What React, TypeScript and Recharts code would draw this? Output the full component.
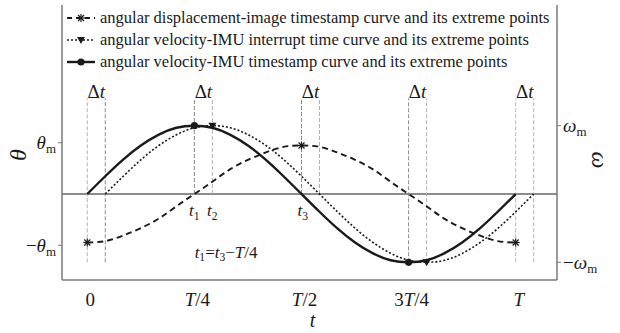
import React from 'react';
import { ComposedChart, Line, Scatter, XAxis, YAxis, ReferenceLine, Legend } from 'recharts';

// ---- data (time in units of period T, values in units of ω_m) ----
const SOLID_T = [0, 0.042, 0.083, 0.125, 0.167, 0.208, 0.25, 0.292, 0.333, 0.375, 0.417, 0.458, 0.5, 0.542, 0.583, 0.625, 0.667, 0.708, 0.75, 0.792, 0.833, 0.875, 0.917, 0.958, 1];
const SOLID_V = [0, 0.26, 0.5, 0.71, 0.87, 0.97, 1, 0.97, 0.87, 0.71, 0.5, 0.26, 0, -0.26, -0.5, -0.71, -0.87, -0.97, -1, -0.97, -0.87, -0.71, -0.5, -0.26, 0];
const DOTTED_T = [0.042, 0.084, 0.125, 0.167, 0.209, 0.25, 0.292, 0.334, 0.375, 0.417, 0.459, 0.5, 0.542, 0.584, 0.625, 0.667, 0.709, 0.75, 0.792, 0.834, 0.875, 0.917, 0.959, 1.0, 1.042];
const DOTTED_V = [0, 0.26, 0.5, 0.71, 0.87, 0.97, 1, 0.97, 0.87, 0.71, 0.5, 0.26, 0, -0.26, -0.5, -0.71, -0.87, -0.97, -1, -0.97, -0.87, -0.71, -0.5, -0.26, 0];
const DASHED_T = [0, 0.042, 0.083, 0.125, 0.167, 0.208, 0.25, 0.292, 0.333, 0.375, 0.417, 0.458, 0.5, 0.542, 0.583, 0.625, 0.667, 0.708, 0.75, 0.792, 0.833, 0.875, 0.917, 0.958, 1];
const DASHED_V = [-0.71, -0.69, -0.61, -0.5, -0.36, -0.18, 0, 0.18, 0.36, 0.5, 0.61, 0.69, 0.71, 0.69, 0.61, 0.5, 0.36, 0.18, 0, -0.18, -0.36, -0.5, -0.61, -0.69, -0.71];

const SOLID_EXT_T = [0.25, 0.75];
const SOLID_EXT_V = [1, -1];
const DOTTED_EXT_T = [0.292, 0.792];
const DOTTED_EXT_V = [1, -1];
const DASHED_EXT_T = [0, 0.5, 1];
const DASHED_EXT_V = [-0.71, 0.71, -0.71];

const DELTA_T = 0.042;
const DT_MARKS = [0, 0.25, 0.5, 0.75, 1];
const DT_LOW = [-1, 0, 0, -1, -1];
const DT_HIGH = 1.4;
const DT_LABEL_V = 1.5;

const X_TICKS = [0, 0.25, 0.5, 0.75, 1];
const X_LABELS = ['0', 'T/4', 'T/2', '3T/4', 'T'];
const LEFT_TICKS = [0.75, -0.75];
const LEFT_LABELS = ['θ_m', '−θ_m'];
const RIGHT_TICKS = [1, -1];
const RIGHT_LABELS = ['ω_m', '−ω_m'];

const ANNOT_T = [0.25, 0.292, 0.503, 0.324];
const ANNOT_V = [-0.24, -0.24, -0.24, -0.85];
const ANNOT_TEXT = ['t_1', 't_2', 't_3', 't_1=t_3−T/4'];

const LEGEND_ITEMS = [
  'angular displacement-image timestamp curve and its extreme points',
  'angular velocity-IMU interrupt time curve and its extreme points',
  'angular velocity-IMU timestamp curve and its extreme points',
];

const X_DOMAIN = [-0.059, 1.0964];
const Y_DOMAIN = [-1.259, 2.767];

const solidData = SOLID_T.map((t, i) => ({ t, v: SOLID_V[i] }));
const dottedData = DOTTED_T.map((t, i) => ({ t, v: DOTTED_V[i] }));
const dashedData = DASHED_T.map((t, i) => ({ t, v: DASHED_V[i] }));
const solidExt = SOLID_EXT_T.map((t, i) => ({ t, v: SOLID_EXT_V[i] }));
const dottedExt = DOTTED_EXT_T.map((t, i) => ({ t, v: DOTTED_EXT_V[i] }));
const dashedExt = DASHED_EXT_T.map((t, i) => ({ t, v: DASHED_EXT_V[i] }));
const dtLabels = DT_MARKS.map((m) => ({ t: m + DELTA_T / 2, v: DT_LABEL_V, label: 'Δt' }));
const annots = ANNOT_T.map((t, i) => ({ t, v: ANNOT_V[i], label: ANNOT_TEXT[i] }));

const SERIF = '"Liberation Serif", serif';
const INK = '#1a1a1a';
const AXIS = '#7a7a7a';

function MathText({ text, x, y, size, anchor = 'middle', fill = INK, transform }: any) {
  const parts: any[] = [];
  let i = 0;
  let pendingUp = 0;
  while (i < text.length) {
    const ch = text[i];
    if (ch === '_') {
      const s = text[i + 1];
      parts.push(
        <tspan key={i} fontSize={size * 0.68} dy={size * 0.22} fontStyle="normal">{s}</tspan>
      );
      pendingUp = -size * 0.22;
      i += 2;
      continue;
    }
    const italic = /[Ttθω]/.test(ch);
    parts.push(
      <tspan key={i} fontStyle={italic ? 'italic' : 'normal'} dy={pendingUp || undefined}>{ch}</tspan>
    );
    pendingUp = 0;
    i += 1;
  }
  return (
    <text x={x} y={y + size * 0.33} fontSize={size} fontFamily={SERIF} fill={fill} textAnchor={anchor} transform={transform}>
      {parts}
    </text>
  );
}

const Asterisk = ({ cx, cy }: any) => (
  <g stroke={INK} strokeWidth={1.2}>
    <line x1={cx - 4} y1={cy} x2={cx + 4} y2={cy} />
    <line x1={cx} y1={cy - 4} x2={cx} y2={cy + 4} />
    <line x1={cx - 3} y1={cy - 3} x2={cx + 3} y2={cy + 3} />
    <line x1={cx - 3} y1={cy + 3} x2={cx + 3} y2={cy - 3} />
  </g>
);
const TriDown = ({ cx, cy }: any) => (
  <polygon points={`${cx - 4},${cy - 3} ${cx + 4},${cy - 3} ${cx},${cy + 4}`} fill={INK} />
);
const Dot = ({ cx, cy }: any) => <circle cx={cx} cy={cy} r={3.6} fill={INK} />;

const LabelShape = (size: number) => ({ cx, cy, payload }: any) => (
  <MathText text={payload.label} x={cx} y={cy} size={size} />
);

const XTick = ({ x, payload }: any) => {
  const idx = X_TICKS.indexOf(payload.value);
  return <MathText text={X_LABELS[idx] ?? ''} x={x + 3} y={300} size={19} />;
};
const LeftTick = ({ x, y, payload }: any) => {
  const idx = LEFT_TICKS.indexOf(payload.value);
  return <MathText text={LEFT_LABELS[idx] ?? ''} x={x} y={y} size={19} anchor="end" />;
};
const RightTick = ({ x, y, payload }: any) => {
  const idx = RIGHT_TICKS.indexOf(payload.value);
  return <MathText text={RIGHT_LABELS[idx] ?? ''} x={x} y={y} size={19} anchor="start" />;
};

const legendSample = (i: number) => {
  if (i === 0)
    return (
      <svg width={32} height={14}>
        <line x1={2} y1={7} x2={30} y2={7} stroke={INK} strokeWidth={1.8} strokeDasharray="5 4" />
        <Asterisk cx={16} cy={7} />
      </svg>
    );
  if (i === 1)
    return (
      <svg width={32} height={14}>
        <line x1={2} y1={7} x2={30} y2={7} stroke={INK} strokeWidth={1.6} strokeDasharray="2 2" />
        <TriDown cx={16} cy={7} />
      </svg>
    );
  return (
    <svg width={32} height={14}>
      <line x1={2} y1={7} x2={30} y2={7} stroke={INK} strokeWidth={2.4} />
      <Dot cx={16} cy={7} />
    </svg>
  );
};

const renderLegend = () => (
  <div style={{ fontFamily: SERIF, fontSize: 16.5, color: INK, textAlign: 'left' }}>
    {LEGEND_ITEMS.map((item, i) => (
      <div key={i} style={{ display: 'flex', alignItems: 'center', height: 22, whiteSpace: 'nowrap' }}>
        {legendSample(i)}
        <span style={{ marginLeft: 3, fontFamily: SERIF }}>{item}</span>
      </div>
    ))}
  </div>
);

export default function App() {
  return (
    <div style={{ position: 'absolute', left: 0, top: 0, width: 620, height: 333, background: '#fff', fontFamily: SERIF }}>
      <ComposedChart width={620} height={333} margin={{ top: 5, right: 0, bottom: 0, left: 0 }}>
        <XAxis
          dataKey="t"
          type="number"
          domain={X_DOMAIN}
          allowDataOverflow
          ticks={X_TICKS}
          tick={<XTick />}
          tickLine={false}
          height={53}
          axisLine={{ stroke: AXIS, strokeWidth: 1.5 }}
          label={{
            content: ({ viewBox }: any) => (
              <MathText text="t" x={viewBox.x + viewBox.width / 2 + 3} y={320} size={20} />
            ),
          }}
        />
        <XAxis
          xAxisId="top"
          orientation="top"
          dataKey="t"
          type="number"
          domain={X_DOMAIN}
          allowDataOverflow
          tick={false}
          tickLine={false}
          height={0}
          axisLine={{ stroke: AXIS, strokeWidth: 1.5 }}
        />
        <YAxis
          yAxisId="left"
          type="number"
          domain={Y_DOMAIN}
          allowDataOverflow
          ticks={LEFT_TICKS}
          tick={<LeftTick />}
          tickSize={4}
          tickMargin={2}
          tickLine={{ stroke: AXIS }}
          width={62}
          axisLine={{ stroke: AXIS, strokeWidth: 1.5 }}
          label={{
            content: () => (
              <MathText text="θ" x={18} y={155} size={24} transform="rotate(-90, 18, 155)" />
            ),
          }}
        />
        <YAxis
          yAxisId="right"
          orientation="right"
          type="number"
          domain={Y_DOMAIN}
          allowDataOverflow
          ticks={RIGHT_TICKS}
          tick={<RightTick />}
          tickSize={4}
          tickMargin={2}
          tickLine={{ stroke: AXIS }}
          width={63}
          axisLine={{ stroke: AXIS, strokeWidth: 1.5 }}
          label={{
            content: () => (
              <MathText text="ω" x={600} y={160} size={24} transform="rotate(90, 600, 160)" />
            ),
          }}
        />

        <ReferenceLine yAxisId="left" y={0} stroke="#666" strokeWidth={1.5} />
        {DT_MARKS.map((m, i) => (
          <ReferenceLine
            key={`a${i}`}
            yAxisId="left"
            segment={[{ x: m, y: DT_LOW[i] }, { x: m, y: DT_HIGH }]}
            stroke={i === 0 || i === 4 ? '#b5b5b5' : '#8a8a8a'}
            strokeDasharray="4 2"
            strokeWidth={1}
          />
        ))}
        {DT_MARKS.map((m, i) => (
          <ReferenceLine
            key={`b${i}`}
            yAxisId="left"
            segment={[{ x: m + DELTA_T, y: DT_LOW[i] }, { x: m + DELTA_T, y: DT_HIGH }]}
            stroke={i === 0 ? '#8a8a8a' : '#b0b0b0'}
            strokeDasharray="4 2"
            strokeWidth={1}
          />
        ))}

        <Line yAxisId="left" data={dashedData} dataKey="v" type="natural" stroke={INK} strokeWidth={1.9} strokeDasharray="6 4" dot={false} isAnimationActive={false} />
        <Line yAxisId="left" data={dottedData} dataKey="v" type="natural" stroke={INK} strokeWidth={1.6} strokeDasharray="2 2" dot={false} isAnimationActive={false} />
        <Line yAxisId="left" data={solidData} dataKey="v" type="natural" stroke={INK} strokeWidth={2.4} dot={false} isAnimationActive={false} />

        <Scatter yAxisId="left" data={dashedExt} dataKey="v" shape={<Asterisk />} isAnimationActive={false} />
        <Scatter yAxisId="left" data={dottedExt} dataKey="v" shape={<TriDown />} isAnimationActive={false} />
        <Scatter yAxisId="left" data={solidExt} dataKey="v" shape={<Dot />} isAnimationActive={false} />
        <Scatter yAxisId="left" data={dtLabels} dataKey="v" shape={LabelShape(19)} isAnimationActive={false} />
        <Scatter yAxisId="left" data={annots} dataKey="v" shape={LabelShape(17)} isAnimationActive={false} />

        <Legend
          content={renderLegend}
          layout="horizontal"
          verticalAlign="middle"
          align="center"
          wrapperStyle={{ left: 65, top: 7, width: 'auto' }}
        />
      </ComposedChart>
    </div>
  );
}
